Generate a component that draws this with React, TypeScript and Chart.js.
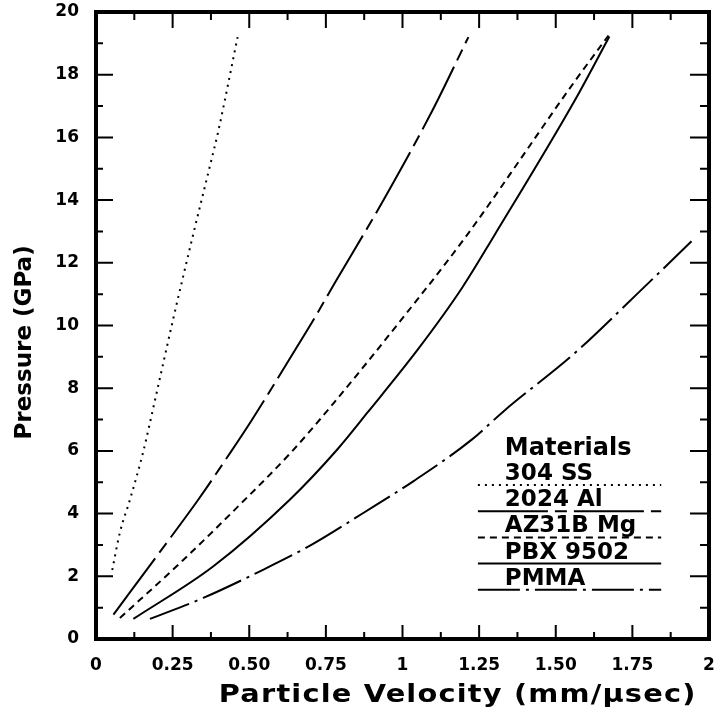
import React, { useEffect, useRef } from 'react';
import { Chart, registerables } from 'chart.js';

Chart.register(...registerables);

// ---- data ----
const materials = ['304 SS', '2024 Al', 'AZ31B Mg', 'PBX 9502', 'PMMA'];
const legendTitle = 'Materials';
const xTitle = 'Particle Velocity (mm/\u03BCsec)';
const yTitle = 'Pressure (GPa)';
const xTickLabels = ['0', '0.25', '0.50', '0.75', '1', '1.25', '1.50', '1.75', '2'];
const yTickLabels = ['0', '2', '4', '6', '8', '10', '12', '14', '16', '18', '20'];

const ss304U = [0.053, 0.078, 0.111, 0.154, 0.192, 0.254, 0.317, 0.372, 0.399, 0.462];
const ss304P = [2.2, 3.4, 4.45, 5.97, 7.6, 10.3, 12.9, 15.1, 16.2, 19.2];

const al2024U = [0.057, 0.214, 0.334, 0.44, 0.508, 0.649, 0.715, 0.778, 0.878, 0.91, 1.095, 1.215];
const al2024P = [0.78, 2.85, 4.45, 5.97, 6.98, 9.21, 10.27, 11.34, 12.99, 13.52, 16.81, 19.2];

const mgU = [0.078, 0.274, 0.475, 0.638, 0.769, 1.008, 1.204, 1.557, 1.672];
const mgP = [0.67, 2.42, 4.34, 5.97, 7.45, 10.33, 12.8, 17.72, 19.25];

const pbxU = [0.122, 0.383, 0.633, 0.785, 0.888, 1.052, 1.193, 1.3, 1.561, 1.675];
const pbxP = [0.64, 2.32, 4.45, 6.02, 7.25, 9.26, 11.18, 12.88, 17.16, 19.22];

const pmmaU = [0.176, 0.35, 0.535, 0.704, 0.872, 1.035, 1.226, 1.334, 1.56, 1.769, 1.943];
const pmmaP = [0.64, 1.31, 2.16, 3.01, 4.02, 5.03, 6.36, 7.3, 9.1, 11.04, 12.69];

const seriesU = [ss304U, al2024U, mgU, pbxU, pmmaU];
const seriesP = [ss304P, al2024P, mgP, pbxP, pmmaP];
const dashes: number[][] = [[2, 5], [70, 7, 12, 7], [7, 5], [], [42, 6, 3, 6]];
const widths = [2, 2, 2, 2, 2];

const FONT = 'DejaVu Sans';

const framePlugin = {
  id: 'frameAndLegend',
  afterDatasetsDraw(chart: any) {
    const { ctx, chartArea, scales } = chart;
    const { left, right, top, bottom } = chartArea;
    const xs = scales.x;
    const ys = scales.y;
    ctx.save();
    ctx.strokeStyle = '#000';
    ctx.setLineDash([]);
    ctx.lineWidth = 2;
    ctx.beginPath();
    for (let i = 0; i <= 16; i++) {
      const px = xs.getPixelForValue(i * 0.125);
      const major = i % 2 === 0;
      const lb = major ? 14 : 7;
      const lt = major ? 16 : 8;
      ctx.moveTo(px, bottom);
      ctx.lineTo(px, bottom - lb);
      ctx.moveTo(px, top);
      ctx.lineTo(px, top + lt);
    }
    for (let i = 0; i <= 20; i++) {
      const py = ys.getPixelForValue(i);
      const major = i % 2 === 0;
      const ll = major ? 17 : 7;
      const lr = major ? 19 : 9;
      ctx.moveTo(left, py);
      ctx.lineTo(left + ll, py);
      ctx.moveTo(right, py);
      ctx.lineTo(right - lr, py);
    }
    ctx.stroke();
    ctx.lineWidth = 4;
    ctx.strokeRect(left, top, right - left, bottom - top);

    const w = right - left;
    const h = bottom - top;
    ctx.fillStyle = '#000';

    // axis titles
    ctx.save();
    ctx.font = `bold 24px "${FONT}"`;
    ctx.textAlign = 'center';
    ctx.textBaseline = 'alphabetic';
    try { (ctx as any).letterSpacing = '1px'; } catch (e) { /* ignore */ }
    ctx.translate(left + w * 0.59, bottom + 63);
    ctx.scale(1.2, 1);
    ctx.fillText(xTitle, 0, 0);
    try { (ctx as any).letterSpacing = '0px'; } catch (e) { /* ignore */ }
    ctx.restore();

    ctx.save();
    ctx.font = `bold 23px "${FONT}"`;
    ctx.textAlign = 'center';
    ctx.textBaseline = 'alphabetic';
    ctx.translate(31, top + h * 0.527);
    ctx.rotate(-Math.PI / 2);
    ctx.fillText(yTitle, 0, 0);
    ctx.restore();

    // legend
    const textX = left + w * 0.667;
    const lineX0 = left + w * 0.623;
    const lineX1 = left + w * 0.922;
    ctx.textAlign = 'left';
    ctx.textBaseline = 'alphabetic';
    ctx.font = `bold 24px "${FONT}"`;
    ctx.fillText(legendTitle, textX, top + h * 0.7065);
    ctx.font = `bold 23px "${FONT}"`;
    const baseY = top + h * 0.7464;
    const stepY = h * 0.0418;
    chart.data.datasets.forEach((ds: any, i: number) => {
      const by = baseY + i * stepY;
      ctx.fillText(ds.label, textX, by);
      ctx.save();
      ctx.lineWidth = ds.borderWidth;
      ctx.setLineDash(ds.borderDash || []);
      ctx.beginPath();
      ctx.moveTo(lineX0, by + 5);
      ctx.lineTo(lineX1, by + 5);
      ctx.stroke();
      ctx.restore();
    });
    ctx.restore();
  },
};

export default function App() {
  const ref = useRef<HTMLCanvasElement>(null);
  useEffect(() => {
    if (!ref.current) return;
    const datasets = materials.map((m, i) => ({
      label: m,
      data: seriesU[i].map((u, j) => ({ x: u, y: seriesP[i][j] })),
      borderColor: '#000',
      backgroundColor: '#000',
      borderWidth: widths[i],
      borderDash: dashes[i],
      pointRadius: 0,
      tension: 0.4,
      cubicInterpolationMode: 'monotone' as const,
      fill: false,
    }));
    const chart = new Chart(ref.current, {
      type: 'line',
      data: { datasets },
      plugins: [framePlugin],
      options: {
        animation: false,
        responsive: false,
        devicePixelRatio: 1,
        layout: { autoPadding: false, padding: { top: 12, right: 7, left: 0, bottom: 0 } },
        plugins: { legend: { display: false }, tooltip: { enabled: false } },
        scales: {
          x: {
            type: 'linear',
            min: 0,
            max: 2,
            afterFit: (s: any) => {
              s.height = 78;
              s.paddingLeft = 0;
              s.paddingRight = 0;
            },
            border: { display: false },
            grid: { display: false, drawTicks: false },
            ticks: {
              stepSize: 0.25,
              padding: 16,
              color: '#000',
              maxRotation: 0,
              autoSkip: false,
              font: { family: FONT, size: 17, weight: 'bold' },
              callback: (v: any, i: number) => xTickLabels[i],
            },
            title: { display: false, text: xTitle },
          },
          y: {
            type: 'linear',
            min: 0,
            max: 20,
            afterFit: (s: any) => {
              s.width = 96;
              s.paddingTop = 0;
              s.paddingBottom = 0;
            },
            border: { display: false },
            grid: { display: false, drawTicks: false },
            ticks: {
              stepSize: 2,
              padding: 17,
              color: '#000',
              autoSkip: false,
              font: { family: FONT, size: 17, weight: 'bold' },
              callback: (v: any, i: number) => yTickLabels[i],
            },
            title: { display: false, text: yTitle },
          },
        },
      },
    } as any);
    return () => chart.destroy();
  }, []);
  return (
    <div style={{ position: 'absolute', left: 0, top: 0, width: 716, height: 717, background: '#fff' }}>
      <canvas ref={ref} width={716} height={717} style={{ display: 'block', width: 716, height: 717 }} />
    </div>
  );
}
